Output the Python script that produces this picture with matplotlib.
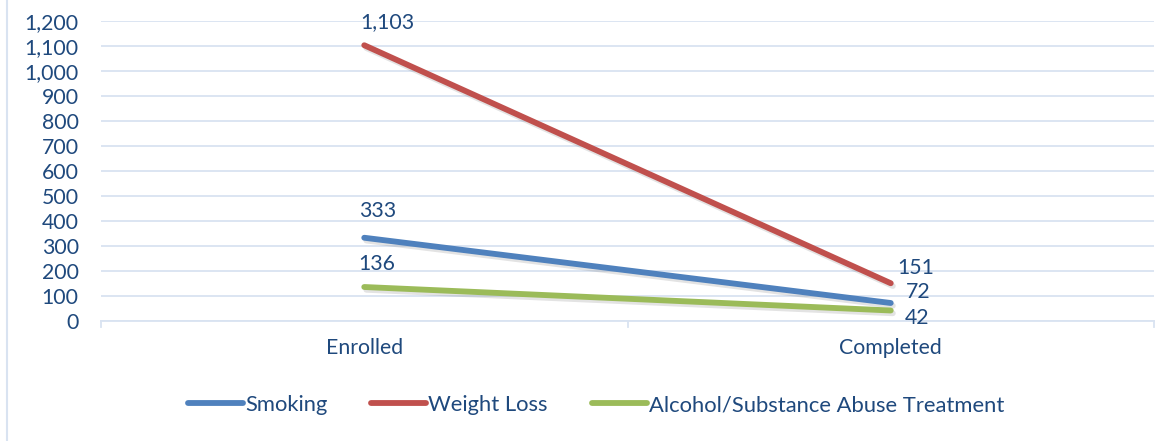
import matplotlib
matplotlib.use("Agg")
import matplotlib.pyplot as plt
import matplotlib.patheffects as pe
from matplotlib.lines import Line2D

# ─── DATA ────────────────────────────────────────────────────────────────────
categories = ["Enrolled", "Completed"]
smoking = [333, 72]
weight_loss = [1103, 151]
alcohol = [136, 42]
series_names = ["Smoking", "Weight Loss", "Alcohol/Substance Abuse Treatment"]
yticks = list(range(0, 1201, 100))

TXT = "#1F497D"
GRID = "#D9E3F1"
colors = ["#4F81BD", "#C0504D", "#9BBB59"]
FS = 15.3
LW = 4.2

plt.rcParams['font.family'] = ['Lato', 'DejaVu Sans']

fig = plt.figure(figsize=(11.73, 4.41), dpi=100)
ax = fig.add_axes([101/1173, 120/441, 1053/1173, 300/441])

x = list(range(len(categories)))
shadow = [pe.SimpleLineShadow(offset=(1.5, -2), alpha=0.22, shadow_color="gray"), pe.Normal()]
for vals, col in zip([smoking, weight_loss, alcohol], colors):
    ax.plot(x, vals, color=col, lw=LW, solid_capstyle="round", path_effects=shadow, zorder=3)

# data labels (offsets in pixels)
label_offsets = {
    "wl": [(23, 23), (25, 15)],
    "sm": [(13, 27), (27, 11)],
    "al": [(12, 23), (26, -7)],
}
for key, vals in [("wl", weight_loss), ("sm", smoking), ("al", alcohol)]:
    for i, v in enumerate(vals):
        ax.annotate(f"{v:,}", (x[i], v), xytext=label_offsets[key][i],
                    textcoords="offset pixels", ha="center", va="center",
                    color=TXT, fontsize=FS)

ax.set_xlim(-0.5, 1.5)
ax.set_ylim(0, 1200)
ax.set_yticks(yticks)
ax.set_yticklabels([f"{v:,}" for v in yticks])
ax.set_xticks(x)
ax.set_xticklabels(categories)
ax.tick_params(axis="y", length=0, labelsize=FS, labelcolor=TXT, pad=16)
ax.tick_params(axis="x", length=0, labelsize=FS, labelcolor=TXT, pad=12)
ax.grid(axis="y", color=GRID, lw=1.3)
ax.set_axisbelow(True)
for s in ["top", "right", "left"]:
    ax.spines[s].set_visible(False)
ax.spines["bottom"].set_color(GRID)
ax.spines["bottom"].set_linewidth(1.3)
# category boundary tick marks
for xb in [-0.5, 0.5, 1.5]:
    ax.plot([xb, xb], [0, -25], color=GRID, lw=1.3, clip_on=False)

handles = [Line2D([0], [0], color=c, lw=LW, solid_capstyle="round") for c in colors]
leg = fig.legend(handles, series_names, loc="center", bbox_to_anchor=(596/1173, 1 - 405/441),
                 ncol=3, frameon=False, fontsize=15.8, handlelength=2.5, handletextpad=0.1,
                 columnspacing=2.0)
for t in leg.get_texts():
    t.set_color(TXT)

# chart area left border
fig.add_artist(Line2D([7/1173, 7/1173], [0, 1], color=GRID, lw=1.5))

fig.savefig("out.png", dpi=100)
